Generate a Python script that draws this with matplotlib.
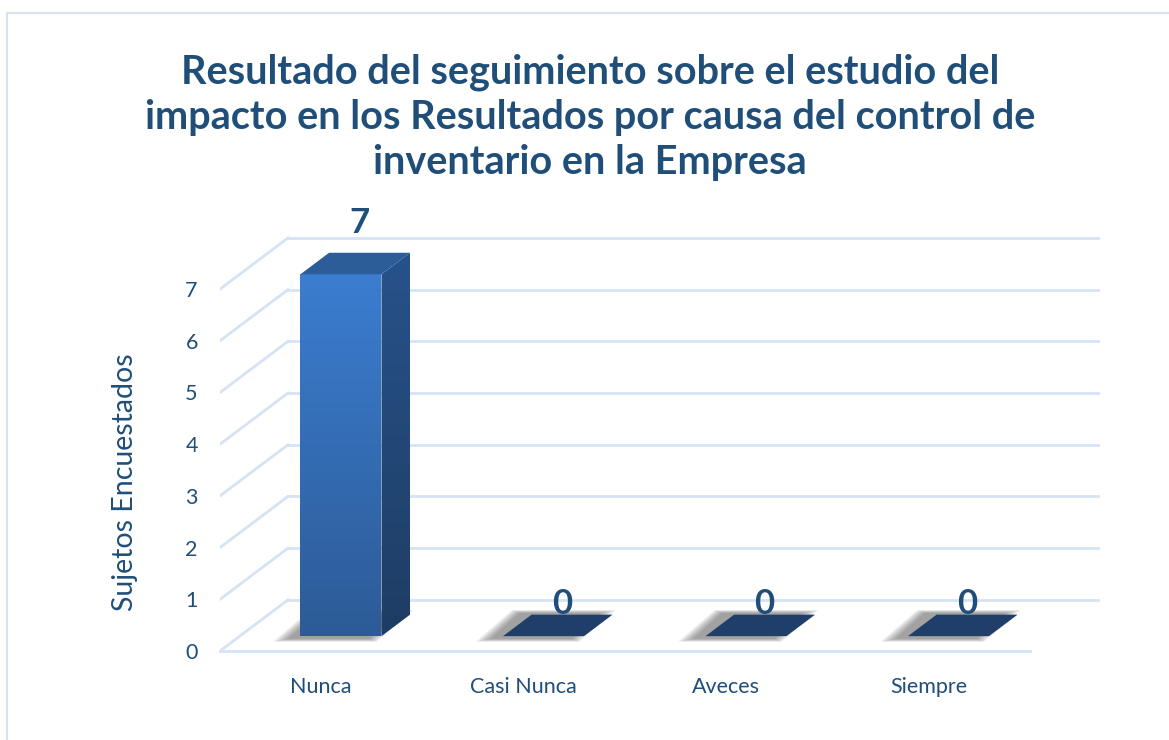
import matplotlib
matplotlib.use("Agg")
import matplotlib.pyplot as plt
import numpy as np
from matplotlib.patches import Polygon, Rectangle

# datos de la encuesta
categorias = ["Nunca", "Casi Nunca", "Aveces", "Siempre"]
valores = [7, 0, 0, 0]
ticks_y = [0, 1, 2, 3, 4, 5, 6, 7]
titulo = ("Resultado del seguimiento sobre el estudio del\n"
          "impacto en los Resultados por causa del control de\n"
          "inventario en la Empresa")
etiqueta_y = "Sujetos Encuestados"

plt.rcParams['font.family'] = ['Lato', 'DejaVu Sans']
azul_texto = '#1F4E79'
azul_grid = '#D5E3F4'

# "profundidad" del piso 3D en unidades de datos
DX, DY = 0.336, 0.99
F0, F1 = 0.29, 0.71      # la barra ocupa esta fraccion de la profundidad
ANCHO = 0.4

fig = plt.figure(figsize=(11.69, 7.40), dpi=100)
fig.patches.append(Rectangle((7 / 1169, -0.1), 1.2, 1.1 - 13 / 740, transform=fig.transFigure,
                             fill=False, edgecolor='#D9E3F0', linewidth=1.5))

W, H = 1169, 740
ax = fig.add_axes([220 / W, (740 - 670) / H, 890 / W, 470 / H])
ax.set_xlim(-0.5, -0.5 + 890 / 202.5)
ax.set_ylim(-19 / 51.7, 451 / 51.7)
for s in ax.spines.values():
    s.set_visible(False)

# rejilla: pared del fondo, pared izquierda y piso
x_izq, x_der = -0.5, len(categorias) - 0.5
for k in ticks_y:
    ax.plot([x_izq + DX, x_der + DX], [k + DY, k + DY], color=azul_grid, lw=2, zorder=1)
    ax.plot([x_izq, x_izq + DX], [k, k + DY], color=azul_grid, lw=2, zorder=1)
ax.plot([x_izq, x_der], [0, 0], color=azul_grid, lw=2, zorder=1, clip_on=False)


def grad(c1, c2, n=64):
    a = np.array(matplotlib.colors.to_rgb(c1))
    b = np.array(matplotlib.colors.to_rgb(c2))
    t = np.linspace(0, 1, n)[:, None]
    return (a * (1 - t) + b * t)[:, None, :]


for i, v in enumerate(valores):
    ox, oy = i + F0 * DX, F0 * DY
    bx, by = i + F1 * DX, F1 * DY
    x0, x1 = ox - ANCHO / 2, ox + ANCHO / 2
    dx, dy = bx - ox, by - oy

    # sombra difusa
    base = np.array([[x0, oy], [x1, oy], [x1 + dx, by], [x0 + dx, by]])
    c = base.mean(axis=0)
    for j in range(8):
        e = 1.0 + 0.04 * j
        pts = (base - c) * [e, e + 0.2] + c + [-0.06, -0.01]
        ax.add_patch(Polygon(pts, closed=True, facecolor='#444444', alpha=0.08,
                             edgecolor='none', zorder=2))

    if v > 0:
        # cara frontal con degradado
        ax.imshow(grad('#2D5B97', '#3B7DCF'), extent=[x0, x1, oy, oy + v], origin='lower',
                  aspect='auto', zorder=4, interpolation='bilinear')
        # cara lateral
        lado = Polygon([[x1, oy], [x1 + dx, by], [x1 + dx, by + v], [x1, oy + v]], closed=True,
                       facecolor='none', edgecolor='none')
        ax.add_patch(lado)
        im = ax.imshow(grad('#1E3D64', '#27528A'), extent=[x1, x1 + dx, oy, by + v],
                       origin='lower', aspect='auto', zorder=4, interpolation='bilinear')
        im.set_clip_path(lado)
        # tapa
        ax.add_patch(Polygon([[x0, oy + v], [x1, oy + v], [x1 + dx, by + v], [x0 + dx, by + v]],
                             closed=True, facecolor='#2C5D99', edgecolor='none', zorder=5))
        off = 14
    else:
        ax.add_patch(Polygon(base, closed=True, facecolor='#1F3F6A', edgecolor='none', zorder=5))
        off = -5

    ax.annotate(str(v), (ox + dx / 2 + 0.02, by + v), xytext=(0, off), textcoords='offset pixels',
                ha='center', va='bottom', fontsize=25, fontweight='bold', color=azul_texto, zorder=6)

ax.set_xticks(range(len(categorias)))
ax.set_xticklabels(categorias, fontsize=15.5, color=azul_texto)
ax.set_yticks(ticks_y)
ax.set_yticklabels([str(t) for t in ticks_y], fontsize=15.5, color=azul_texto)
ax.tick_params(axis='both', length=0)
ax.tick_params(axis='x', pad=5)
ax.tick_params(axis='y', pad=16)

fig.text(125 / W, 1 - 482 / H, etiqueta_y, rotation=90, ha='center', va='center',
         fontsize=20.5, color=azul_texto)
fig.text(590 / W, 1 - 117 / H, titulo, ha='center', va='center', fontsize=28.5,
         fontweight='bold', color=azul_texto, linespacing=1.27)

fig.savefig("out.png", dpi=100)
